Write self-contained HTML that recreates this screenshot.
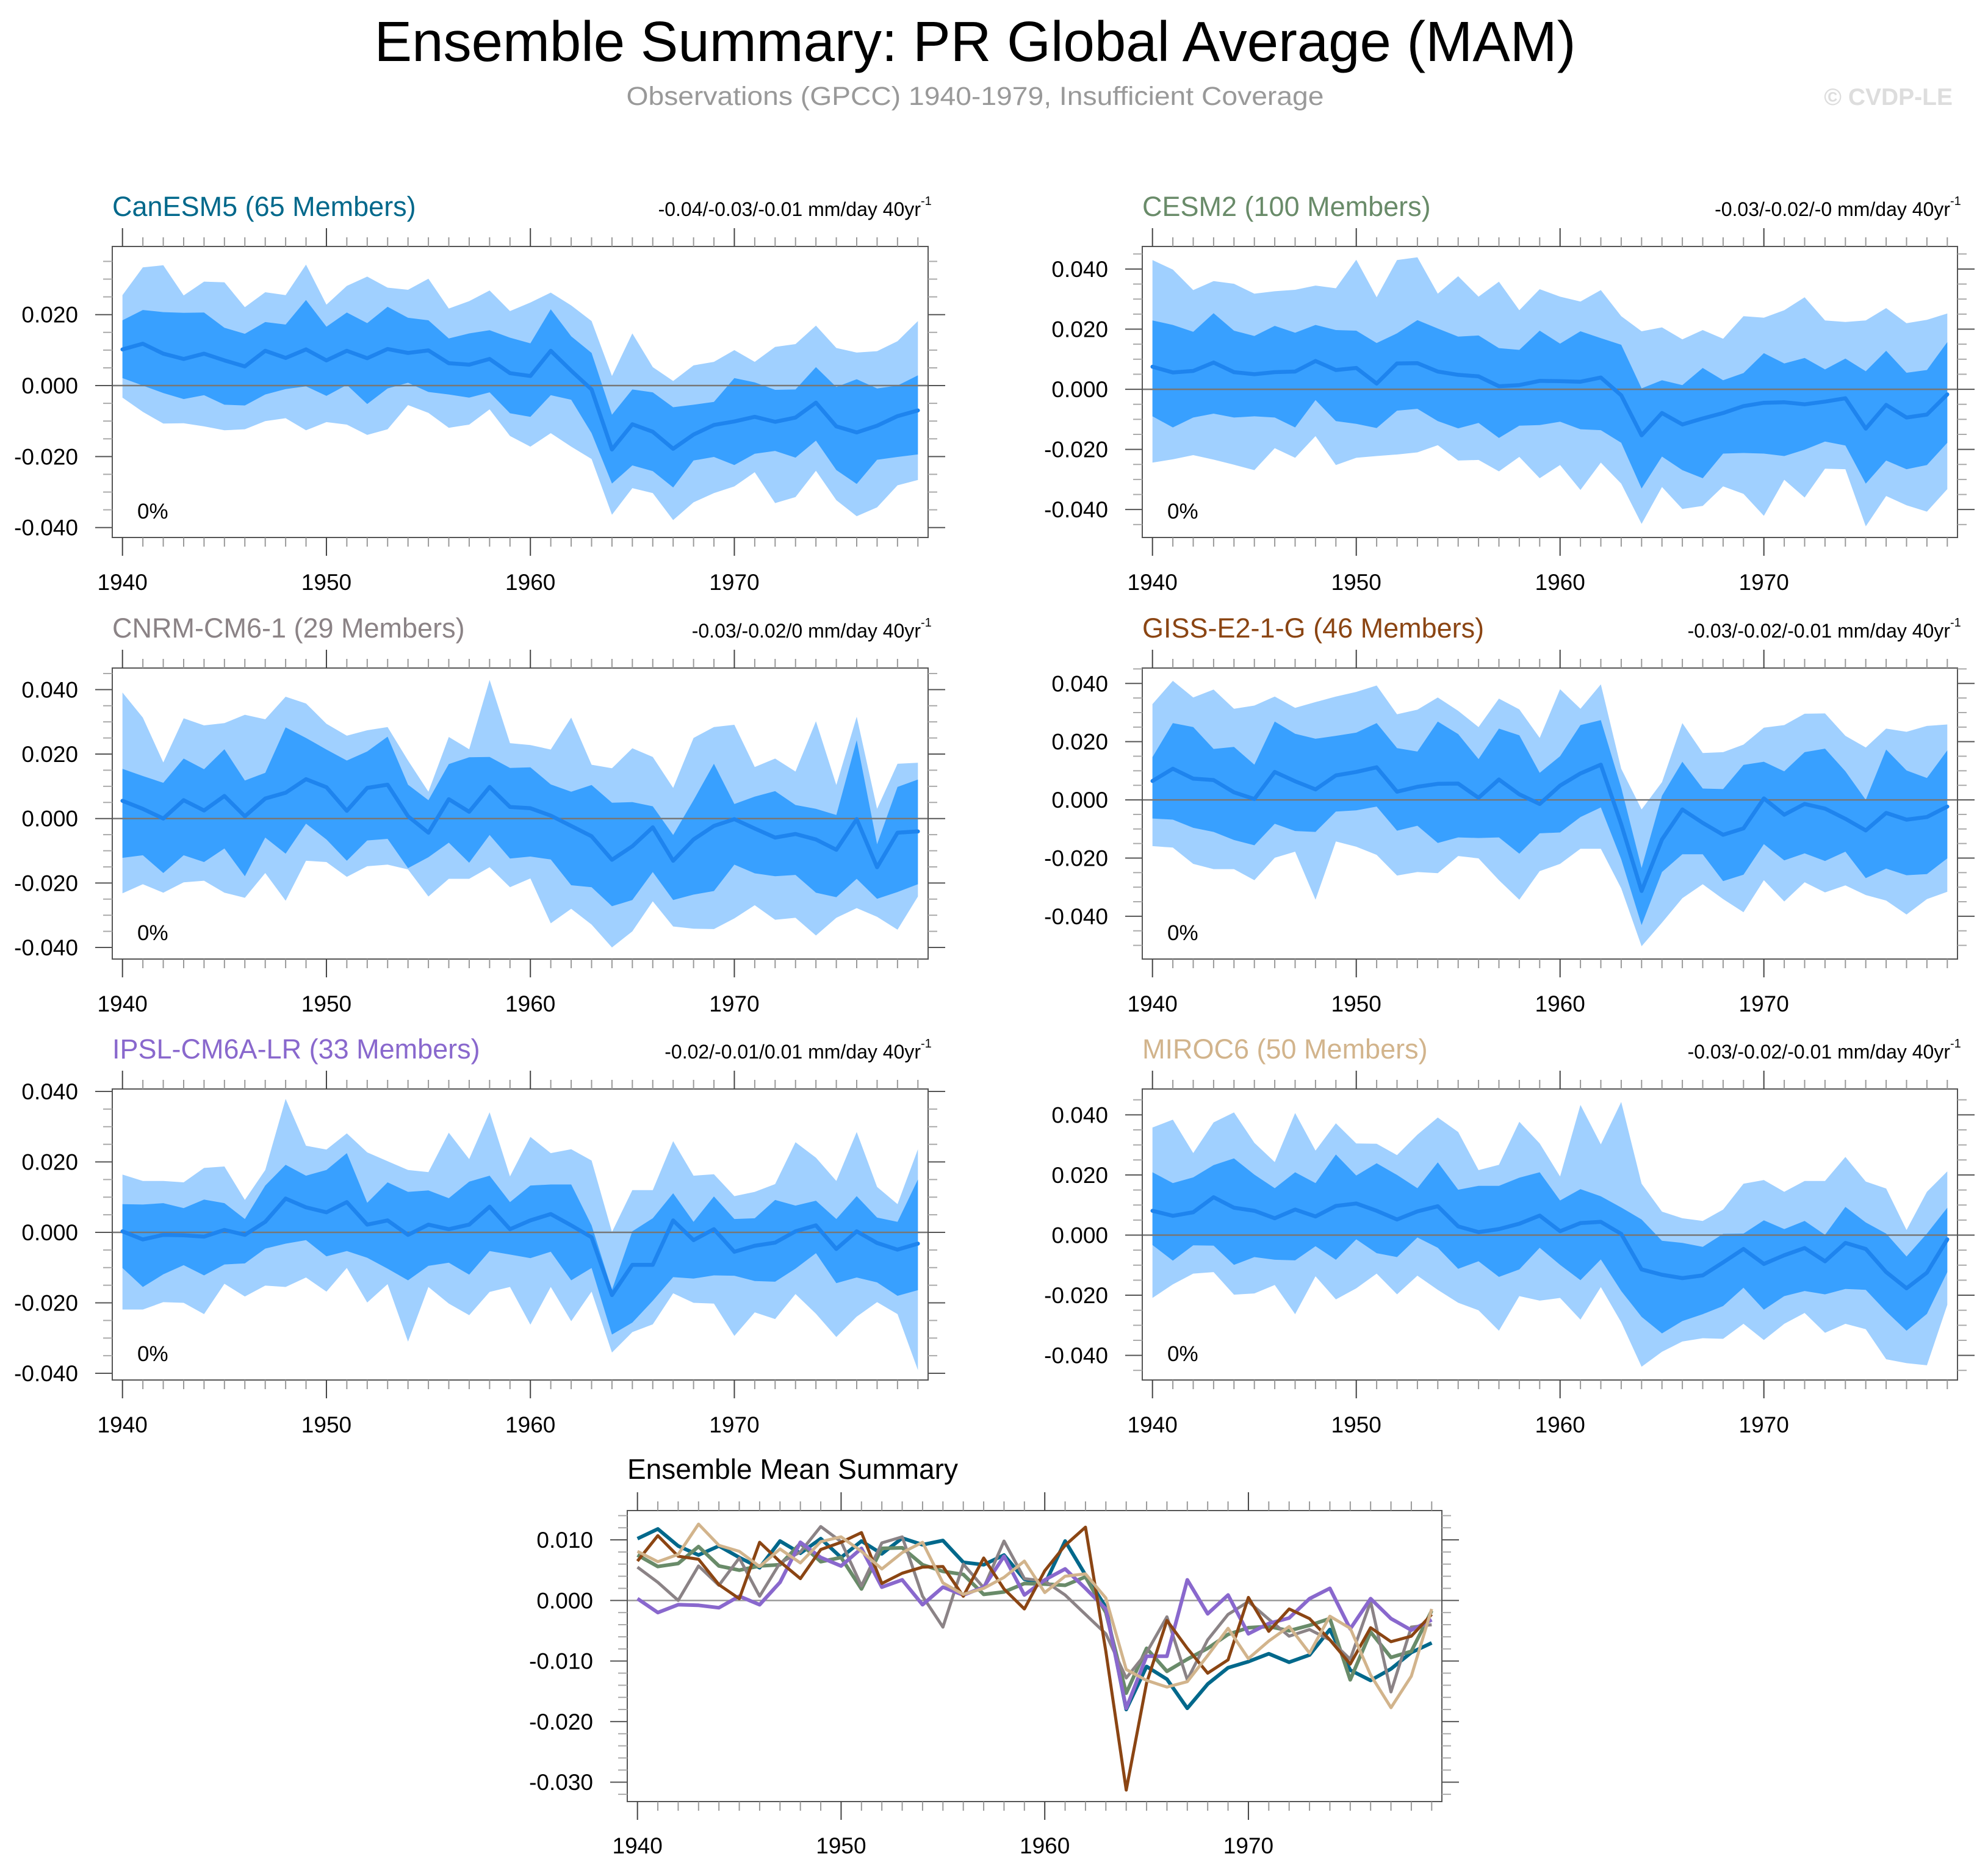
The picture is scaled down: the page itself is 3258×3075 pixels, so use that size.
<!DOCTYPE html>
<html><head><meta charset="utf-8"><title>Ensemble Summary: PR Global Average (MAM)</title>
<style>html,body{margin:0;padding:0;background:#fff}svg{display:block}text{font-family:"Liberation Sans",Arial,sans-serif}</style>
</head><body>
<svg id="chart" xmlns="http://www.w3.org/2000/svg" width="3258" height="3075" viewBox="0 0 3258 3075">
<text x="1598" y="100" font-size="93" text-anchor="middle" fill="#000" textLength="1969" lengthAdjust="spacingAndGlyphs">Ensemble Summary: PR Global Average (MAM)</text>
<text x="1598" y="172" font-size="43" text-anchor="middle" fill="#999" textLength="1143" lengthAdjust="spacingAndGlyphs">Observations (GPCC) 1940-1979, Insufficient Coverage</text>
<text x="3200" y="172" font-size="39" font-weight="bold" text-anchor="end" fill="#ddd">© CVDP-LE</text>
</svg>
<script>
// ---- data (values in mm/day) ----
const years = [1940,1941,1942,1943,1944,1945,1946,1947,1948,1949,1950,1951,1952,1953,1954,1955,1956,1957,1958,1959,1960,1961,1962,1963,1964,1965,1966,1967,1968,1969,1970,1971,1972,1973,1974,1975,1976,1977,1978,1979];
const xTickLabels = [1940,1950,1960,1970];
const modelNames = ["CanESM5 (65 Members)","CESM2 (100 Members)","CNRM-CM6-1 (29 Members)","GISS-E2-1-G (46 Members)","IPSL-CM6A-LR (33 Members)","MIROC6 (50 Members)"];
const trendLabels = ["-0.04/-0.03/-0.01 mm/day 40yr","-0.03/-0.02/-0 mm/day 40yr","-0.03/-0.02/0 mm/day 40yr","-0.03/-0.02/-0.01 mm/day 40yr","-0.02/-0.01/0.01 mm/day 40yr","-0.03/-0.02/-0.01 mm/day 40yr"];
const panelYTickLabels = ["-0.040","-0.020","0.000","0.020","0.040"];
const summaryYTickLabels = ["-0.030","-0.020","-0.010","0.000","0.010"];

// values in units of 0.001 mm/day
const canMean=[10.2,11.8,9.0,7.5,9.0,7.1,5.4,9.8,7.8,10.2,7.1,9.8,7.7,10.3,9.2,9.9,6.3,5.9,7.5,3.5,2.7,9.8,4.2,-1.1,-18.0,-10.9,-13.0,-17.8,-13.8,-11.1,-10.1,-8.8,-10.2,-9.0,-4.8,-11.5,-13.2,-11.3,-8.6,-7.0];
const canDarkHi=[18.4,21.3,20.7,20.5,20.6,16.3,14.6,17.9,17.2,24.1,16.6,20.6,17.6,22.2,19.1,18.4,13.3,14.7,15.6,13.5,11.9,21.5,13.9,9.2,-8.2,-1.1,-1.9,-6.1,-5.4,-4.6,2.1,0.9,-1.2,-1.1,5.2,-0.4,1.8,-0.8,0,2.9];
const canDarkLo=[2.1,0,-2.1,-3.8,-2.7,-5.4,-5.6,-2.5,-1.0,-0.2,-2.9,0.2,-5.2,-0.8,0.8,-1.8,-2.5,-3.4,-1.9,-7.8,-8.8,-2.7,-4.0,-13.4,-27.6,-22.5,-24.1,-28.7,-21.1,-20.1,-22.4,-19.2,-18.4,-20.3,-15.5,-23.8,-27.7,-20.9,-20.1,-19.4];
const canLightHi=[25.5,33.3,33.9,25.4,29.3,29.1,22.1,26.3,25.5,34.1,22.8,28.1,30.7,27.6,27.0,30.1,21.7,23.8,26.8,21.0,23.4,26.2,22.6,18.2,2.7,14.7,5.2,1.3,5.7,6.7,10.0,6.7,10.9,11.7,16.9,10.6,9.3,9.7,12.5,18.2];
const canLightLo=[-3.4,-7.4,-10.7,-10.6,-11.5,-12.6,-12.3,-10.0,-9.2,-12.6,-10.3,-11.0,-13.9,-12.3,-5.5,-7.7,-11.9,-11.0,-6.7,-14.2,-17.2,-13.4,-17.2,-20.7,-36.4,-28.9,-30.3,-37.9,-32.9,-30.3,-28.4,-24.4,-33.1,-31.4,-24.0,-32.3,-36.8,-34.3,-28.1,-26.6];

const cesmMean=[7.5,5.6,6.1,8.9,5.7,5.0,5.7,5.9,9.4,6.4,7.1,1.9,8.6,8.7,5.9,4.8,4.3,1.0,1.4,2.8,2.7,2.5,3.9,-2.0,-15.3,-7.9,-11.7,-9.7,-7.9,-5.6,-4.5,-4.3,-5.0,-4.1,-3.0,-13.1,-5.2,-9.4,-8.4,-1.7];
const cesmDarkHi=[22.9,21.4,19.1,25.3,19.5,17.7,21.1,18.8,21.4,19.7,19.5,15.4,18.6,23.0,20.2,17.5,17.9,13.7,13.1,19.5,15.2,19.3,17.0,14.8,0.3,3.0,1.4,7.1,3.0,5.4,12.0,8.6,10.4,6.6,10.2,6.0,12.8,5.5,6.4,15.7];
const cesmDarkLo=[-9.0,-12.7,-9.4,-8.1,-9.4,-9.0,-9.4,-12.7,-3.6,-10.6,-11.5,-12.9,-7.1,-6.5,-10.6,-13.0,-11.2,-16.2,-12.1,-11.9,-10.8,-13.3,-13.6,-17.8,-33.0,-22.4,-26.9,-29.6,-21.4,-21.2,-21.4,-22.2,-20.1,-17.4,-18.7,-31.4,-23.7,-26.6,-25.2,-17.8];
const cesmLightHi=[43.0,39.8,33.0,36.0,35.1,31.8,32.6,33.1,34.5,33.6,43.1,30.6,43.0,43.9,31.8,37.6,30.8,35.8,26.3,33.3,30.8,29.2,33.0,24.3,19.3,20.6,16.6,19.7,16.8,24.3,23.8,26.3,30.6,22.9,22.4,22.9,27.0,22.0,23.1,25.2];
const cesmLightLo=[-24.4,-23.3,-21.9,-23.4,-25.1,-26.9,-19.6,-22.8,-15.6,-25.2,-22.8,-22.2,-21.7,-21.0,-18.6,-23.7,-23.5,-27.3,-22.5,-29.6,-25.2,-33.5,-24.4,-31.4,-44.8,-32.5,-39.8,-38.8,-32.3,-34.8,-42.1,-30.1,-36.0,-26.4,-26.6,-45.6,-35.5,-38.6,-40.7,-33.2];

const cnrmMean=[5.5,3.0,0,5.7,2.5,7.0,0.7,6.2,8.0,12.2,9.7,2.4,9.5,10.5,0.7,-4.4,6.0,2.1,9.8,3.6,3.2,0.9,-2.3,-5.5,-12.8,-8.6,-2.7,-13.1,-6.5,-2.3,-0.2,-3.1,-5.9,-4.8,-6.5,-9.7,-0.2,-15.1,-4.4,-4.0];
const cnrmDarkHi=[15.4,13.2,11.1,18.6,15.3,21.5,11.8,14.2,28.3,25.0,21.4,18.0,20.8,25.4,10.5,5.7,16.9,19.0,19.1,15.7,15.9,10.6,8.3,10.4,4.9,5.1,3.8,-5.1,5.7,17.0,4.5,6.8,8.5,4.2,3.0,1.1,24.3,-8.0,9.8,12.1];
const cnrmDarkLo=[-12.2,-11.4,-16.9,-11.4,-13.5,-9.3,-17.9,-5.9,-10.9,-1.6,-6.5,-13.1,-6.8,-6.3,-15.4,-12.0,-7.5,-13.7,-5.1,-12.4,-11.8,-12.7,-20.7,-21.3,-27.2,-25.3,-16.6,-25.3,-23.6,-22.5,-14.3,-17.0,-17.9,-17.5,-23.0,-24.4,-18.7,-24.9,-22.8,-20.4];
const cnrmLightHi=[39.1,31.3,17.4,31.1,28.9,29.6,32.2,30.8,37.8,35.7,29.4,25.7,27.4,28.4,18.0,8.3,25.3,21.5,43.0,23.4,22.8,21.4,31.3,16.7,15.6,21.8,19.1,9.5,25.0,28.4,29.1,16.0,18.6,14.6,30.2,10.4,31.6,3.0,17.0,17.3];
const cnrmLightLo=[-23.2,-20.4,-23.0,-19.8,-19.3,-23.0,-24.6,-16.9,-25.5,-13.1,-13.5,-18.1,-14.8,-14.3,-15.8,-24.2,-18.7,-18.7,-15.1,-21.3,-18.6,-32.5,-28.0,-32.9,-40.0,-35.0,-25.7,-33.5,-34.2,-34.3,-31.0,-26.9,-31.4,-30.8,-36.3,-30.8,-27.8,-30.5,-34.5,-24.2];

const gissMean=[6.5,10.7,7.3,6.8,2.6,0.3,9.6,6.4,3.6,8.4,9.6,11.2,2.8,4.5,5.5,5.6,0.7,7.0,1.9,-1.4,4.9,9.1,12.1,-8.4,-31.3,-13.6,-3.3,-7.9,-12.0,-9.8,0.5,-5.1,-1.4,-3.0,-6.5,-10.5,-4.5,-6.8,-5.9,-2.3];
const gissDarkHi=[14.7,26.4,25.0,17.5,18.2,12.1,26.9,22.7,21.0,22.0,23.1,26.4,17.8,16.6,26.9,22.6,14.0,24.5,22.2,9.3,15.0,25.7,27.4,4.2,-23.4,1.4,13.1,3.9,3.7,12.0,13.1,9.8,16.4,17.6,9.8,0,17.3,10.1,7.5,17.0];
const gissDarkLo=[-6.4,-6.8,-9.6,-11.0,-13.8,-15.6,-8.2,-10.7,-11.0,-4.0,-3.6,-2.3,-10.6,-8.9,-14.8,-12.9,-13.1,-12.9,-18.5,-11.5,-11.2,-5.9,-2.6,-20.4,-43.0,-24.8,-18.7,-18.7,-27.9,-25.7,-15.2,-20.8,-18.4,-21.0,-17.8,-26.9,-23.6,-25.9,-25.5,-20.1];
const gissLightHi=[32.9,40.9,35.2,37.9,31.3,32.4,35.5,31.6,33.6,35.5,37.1,39.3,29.4,31.0,35.2,30.6,25.0,34.8,31.1,21.3,38.0,31.3,39.7,10.7,-3.3,6.1,26.4,16.1,16.4,19.0,24.8,25.7,29.6,29.7,22.0,18.0,24.5,23.4,25.4,25.9];
const gissLightLo=[-15.9,-16.4,-22.0,-23.8,-23.8,-27.6,-19.9,-17.8,-34.3,-14.3,-16.1,-18.9,-26.0,-24.8,-25.2,-19.3,-20.1,-27.6,-34.3,-24.5,-22.0,-16.8,-16.8,-30.4,-50.3,-42.2,-33.8,-29.0,-34.1,-38.6,-27.6,-34.9,-28.3,-31.8,-29.4,-32.7,-34.6,-39.4,-34.1,-31.6];

const ipslMean=[0.3,-2.0,-0.7,-0.8,-1.2,0.7,-0.7,3.0,9.6,7.1,5.7,8.6,2.2,3.4,-0.7,2.2,0.9,2.2,7.3,0.9,3.4,5.2,2.0,-1.4,-17.8,-9.2,-9.2,3.4,-2.2,0.9,-5.5,-3.8,-2.9,0.3,2.0,-4.7,0.3,-3.0,-4.9,-3.2];
const ipslDarkHi=[8.0,7.9,8.3,6.9,9.3,8.3,3.8,13.3,19.2,16.1,17.7,22.5,8.4,14.2,11.5,11.9,9.7,14.4,16.1,8.6,13.3,13.6,13.6,2.0,-16.3,0.3,4.0,11.1,3.0,10.2,3.8,4.0,9.2,7.6,9.0,3.8,10.3,4.2,3.0,15.0];
const ipslDarkLo=[-10.1,-15.5,-11.9,-9.3,-12.2,-9.1,-8.8,-4.6,-3.2,-2.2,-6.8,-5.3,-7.2,-10.3,-13.6,-9.5,-8.6,-12.0,-5.3,-6.3,-7.3,-5.5,-13.6,-10.1,-29.0,-25.6,-19.4,-12.7,-13.1,-12.2,-12.3,-13.8,-14.0,-10.3,-5.9,-14.4,-12.8,-14.2,-18.0,-16.4];
const ipslLightHi=[16.4,14.6,14.6,14.2,18.3,18.7,9.2,17.7,37.9,24.6,23.5,28.1,22.7,20.2,17.7,17.1,28.3,20.8,34.1,15.9,27.1,22.5,23.6,20.4,0.1,12.0,12.0,25.9,16.1,16.5,10.3,11.5,13.7,25.6,21.2,14.6,28.5,12.9,8.0,23.6];
const ipslLightLo=[-21.9,-21.9,-19.8,-20.0,-23.2,-14.6,-18.2,-15.1,-15.5,-12.8,-16.8,-10.1,-19.9,-14.7,-31.0,-15.5,-20.2,-23.5,-16.9,-15.5,-26.2,-15.5,-25.2,-16.8,-34.1,-28.3,-26.1,-17.3,-20.0,-20.2,-29.4,-22.7,-24.6,-17.5,-23.1,-29.7,-23.9,-19.8,-23.2,-39.1];

const mirocMean=[8.1,6.4,7.6,12.6,9.1,8.1,5.6,8.5,6.2,9.7,10.5,8.1,5.2,7.9,9.6,2.9,1.0,2.0,3.8,6.5,1.3,4.0,4.4,0.4,-11.4,-13.2,-14.3,-13.4,-9.1,-4.6,-9.6,-6.7,-4.3,-8.7,-2.6,-4.6,-12.3,-17.7,-12.5,-1.4];
const mirocDarkHi=[20.9,17.3,19.2,23.3,25.5,20.1,15.6,20.9,17.3,26.8,19.8,23.9,20.0,15.6,24.2,15.1,16.4,16.4,19.1,20.9,11.5,15.3,12.9,9.2,5.2,-1.9,-2.6,-3.9,0.4,0.5,4.9,2.0,4.7,0.1,9.4,4.2,0.5,-7.1,0.5,9.1];
const mirocDarkLo=[-3.3,-8.5,-3.4,-3.5,-9.9,-7.3,-8.2,-8.4,-3.7,-8.2,-1.4,-6.0,-7.3,-0.8,-4.2,-11.2,-8.7,-13.9,-11.4,-4.2,-9.9,-15.0,-8.1,-18.6,-27.2,-32.7,-28.6,-26.3,-23.6,-17.5,-24.8,-20.3,-18.6,-19.7,-17.9,-18.2,-25.4,-31.8,-26.2,-12.3];
const mirocLightHi=[35.8,38.4,27.3,37.5,40.8,30.7,24.3,40.6,28.1,37.2,30.5,30.4,26.6,33.4,39.1,34.3,21.6,23.4,37.7,30.5,19.5,43.3,30.2,44.3,17.1,7.8,5.6,4.7,8.5,17.1,18.3,14.4,18.0,18.0,26.0,17.8,15.5,1.7,14.4,21.2];
const mirocLightLo=[-20.9,-16.4,-12.8,-12.3,-19.8,-19.4,-16.6,-26.3,-13.7,-21.4,-17.7,-12.8,-19.7,-13.5,-18.2,-22.5,-25.0,-31.8,-20.3,-21.8,-20.9,-28.1,-17.3,-29.0,-43.8,-38.8,-35.4,-34.3,-34.5,-29.5,-34.9,-29.5,-25.9,-32.5,-29.5,-31.3,-41.3,-42.6,-43.3,-23.2];

const meanSeries=[canMean,cesmMean,cnrmMean,gissMean,ipslMean,mirocMean];
const darkHiSeries=[canDarkHi,cesmDarkHi,cnrmDarkHi,gissDarkHi,ipslDarkHi,mirocDarkHi];
const darkLoSeries=[canDarkLo,cesmDarkLo,cnrmDarkLo,gissDarkLo,ipslDarkLo,mirocDarkLo];
const lightHiSeries=[canLightHi,cesmLightHi,cnrmLightHi,gissLightHi,ipslLightHi,mirocLightHi];
const lightLoSeries=[canLightLo,cesmLightLo,cnrmLightLo,gissLightLo,ipslLightLo,mirocLightLo];

// ---- layout (not data) ----
const modelColors=["#00688b","#698b69","#8b8386","#8b4513","#8968cd","#d2b48c"];
const slugs=["canesm5","cesm2","cnrm-cm6-1","giss-e2-1-g","ipsl-cm6a-lr","miroc6"];
const frames=[
 {l:184,r:1521,t:404,b:881,ymin:-0.0428,ymax:0.0392},
 {l:1872,r:3208,t:404,b:881,ymin:-0.0493,ymax:0.0475},
 {l:184,r:1521,t:1095,b:1572,ymin:-0.0436,ymax:0.0467},
 {l:1872,r:3208,t:1095,b:1572,ymin:-0.0547,ymax:0.0453},
 {l:184,r:1521,t:1785,b:2262,ymin:-0.0419,ymax:0.0407},
 {l:1872,r:3208,t:1785,b:2262,ymin:-0.0482,ymax:0.0486}
];
const NS="http://www.w3.org/2000/svg";
const svg=document.getElementById('chart');
function mk(tag,attrs,parent){const e=document.createElementNS(NS,tag);for(const k in attrs)e.setAttribute(k,attrs[k]);(parent||svg).appendChild(e);return e;}

function drawAxes(g,f,xS,yS,yStepMinor,yLabels,yLabelVals,xLabOff){
  for(let y=1940;y<=1979;y++){
    const x=xS(y);const major=(y%10===0);const len=major?30:15;
    const t1=mk('line',{x1:x,x2:x,y1:f.t,y2:f.t-len,stroke:major?'#444':'#999','stroke-width':2},g);
    
    
    const t2=mk('line',{x1:x,x2:x,y1:f.b,y2:f.b+len,stroke:major?'#444':'#999','stroke-width':2},g);
    
    
  }
  xTickLabels.forEach(v=>{
    const t=mk('text',{x:xS(v),y:f.b+xLabOff,'font-size':37,'text-anchor':'middle',fill:'#000'},g);
    t.textContent=String(v);
    
    
  });
  const start=Math.ceil(f.ymin/yStepMinor-1e-9),end=Math.floor(f.ymax/yStepMinor+1e-9);
  for(let i=start;i<=end;i++){
    const v=i*yStepMinor;const y=yS(v);const major=(i%(yLabels.step)===0);const len=major?28:15;
    const a=mk('line',{x1:f.l,x2:f.l-len,y1:y,y2:y,stroke:major?'#555':'#aaa','stroke-width':2},g);
    
    
    const b=mk('line',{x1:f.r,x2:f.r+len,y1:y,y2:y,stroke:major?'#555':'#aaa','stroke-width':2},g);
    
    
  }
  yLabels.list.forEach((lab,i)=>{
    const v=yLabelVals[i];if(v<f.ymin||v>f.ymax)return;
    const t=mk('text',{x:f.l-56,y:yS(v)+13,'font-size':37,'text-anchor':'end',fill:'#000'},g);
    t.textContent=lab;
    
    
  });
}
function pathFrom(xs,ys){return xs.map((x,i)=>(i?'L':'M')+x.toFixed(1)+','+ys[i].toFixed(1)).join('');}

for(let p=0;p<6;p++){
  const f=frames[p];
  const g=mk('g',{});
  
  
  const xS=v=>f.l+(v-1939.5)/40*(f.r-f.l);
  const yS=v=>f.b-(v-f.ymin)/(f.ymax-f.ymin)*(f.b-f.t);
  const xs=years.map(xS);
  const band=(hi,lo,color,name)=>{
    const up=hi.map(v=>yS(v/1000)),dn=lo.map(v=>yS(v/1000));
    const d=pathFrom(xs,up)+xs.slice().reverse().map((x,i)=>'L'+x.toFixed(1)+','+dn[dn.length-1-i].toFixed(1)).join('')+'Z';
    const e=mk('path',{d:d,fill:color,stroke:'none'},g);
    
    
  };
  band(lightHiSeries[p],lightLoSeries[p],'#a0d0ff','outer-spread-band');
  band(darkHiSeries[p],darkLoSeries[p],'#38a0ff','inner-spread-band');
  const z=mk('line',{x1:f.l,x2:f.r,y1:yS(0),y2:yS(0),stroke:'#777','stroke-width':2.5},g);
  
  
  const m=mk('path',{d:pathFrom(xs,meanSeries[p].map(v=>yS(v/1000))),fill:'none',stroke:'#1e84ee','stroke-width':6.5,'stroke-linejoin':'round','stroke-linecap':'round'},g);
  
  
  const fr=mk('rect',{x:f.l,y:f.t,width:f.r-f.l,height:f.b-f.t,fill:'none',stroke:'#555','stroke-width':2},g);
  
  
  drawAxes(g,f,xS,yS,0.005,{list:panelYTickLabels,step:4},[-0.04,-0.02,0,0.02,0.04],86);
  const tt=mk('text',{x:f.l,y:f.t-50,'font-size':45,fill:modelColors[p]},g);
  tt.textContent=modelNames[p];
  
  
  const tr=mk('text',{x:f.r-12,y:f.t-50,'font-size':32,'text-anchor':'end',fill:'#000'},g);
  tr.textContent=trendLabels[p];
  
  
  const sup=mk('text',{x:f.r-12,y:f.t-68,'font-size':20,fill:'#000'},g);
  sup.textContent='-1';
  
  
  const pc=mk('text',{x:f.l+41,y:f.b-31,'font-size':35,fill:'#000'},g);
  pc.textContent='0%';
  
  
}

// summary
(function(){
  const f={l:1028,r:2363,t:2476,b:2953,ymin:-0.0332,ymax:0.01484};
  const g=mk('g',{});
  
  
  const xS=v=>f.l+(v-1939.5)/40*(f.r-f.l);
  const yS=v=>f.b-(v-f.ymin)/(f.ymax-f.ymin)*(f.b-f.t);
  const xs=years.map(xS);
  const z=mk('line',{x1:f.l,x2:f.r,y1:yS(0),y2:yS(0),stroke:'#999','stroke-width':2.5},g);
  
  
  const widths=[6,6,5,5,6,5];
  const order=[0,1,2,4,3,5];
  order.forEach(p=>{
    const e=mk('path',{d:pathFrom(xs,meanSeries[p].map(v=>yS(v/1000))),fill:'none',stroke:modelColors[p],'stroke-width':widths[p],'stroke-linejoin':'round'},g);
    
    
  });
  const fr=mk('rect',{x:f.l,y:f.t,width:f.r-f.l,height:f.b-f.t,fill:'none',stroke:'#555','stroke-width':2},g);
  
  
  drawAxes(g,f,xS,yS,0.002,{list:summaryYTickLabels,step:5},[-0.03,-0.02,-0.01,0,0.01],85);
  const tt=mk('text',{x:f.l,y:2424,'font-size':46,fill:'#000'},g);
  tt.textContent='Ensemble Mean Summary';
  
  
})();
</script>
</body></html>
